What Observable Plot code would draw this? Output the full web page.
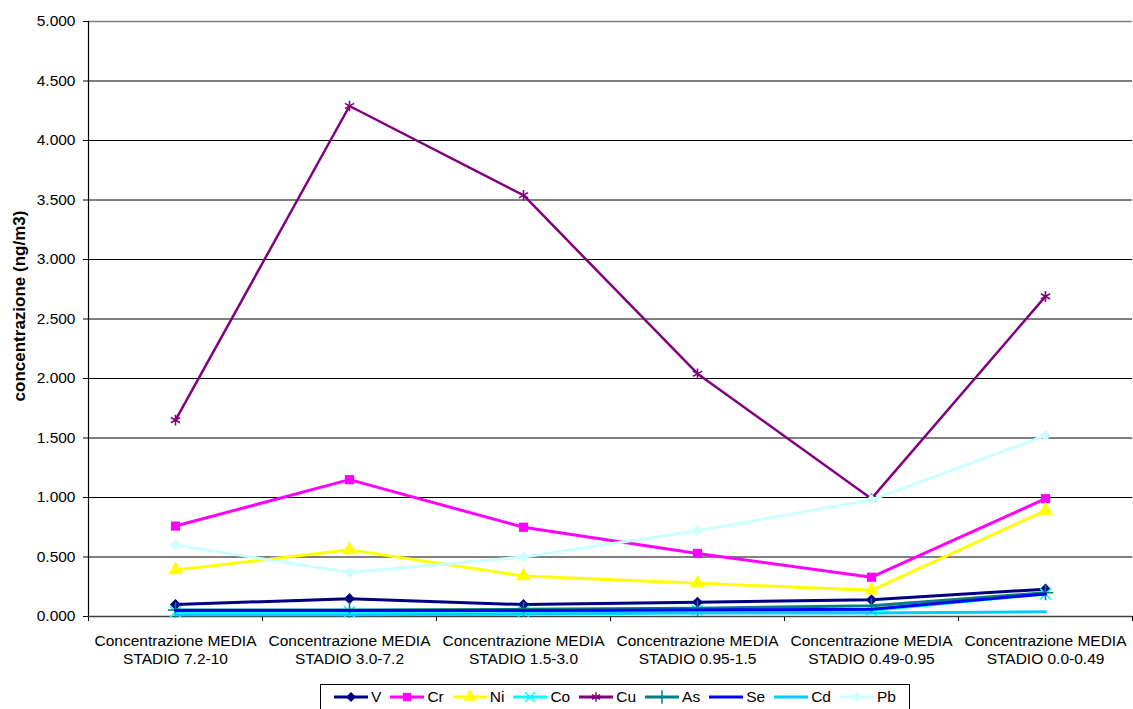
<!DOCTYPE html>
<html>
<head>
<meta charset="utf-8">
<script src="https://cdn.jsdelivr.net/npm/d3@7"></script>
<script src="https://cdn.jsdelivr.net/npm/@observablehq/plot@0.6"></script>
<style>
  html, body { margin: 0; padding: 0; background: #fff; }
  body { font-family: "Liberation Sans", Arial, sans-serif; }
  #wrap { position: relative; width: 1133px; height: 709px; overflow: hidden; }
  #chart { position: absolute; left: 0; top: 0; }
  #legend {
    position: absolute; left: 320px; top: 684px; width: 588px; height: 24px;
    border: 1px solid #000; background: #fff; box-sizing: content-box;
    display: flex; align-items: center; justify-content: center;
    font-size: 15.5px; color: #000;
  }
  .item { display: flex; align-items: center; margin: 0 4.5px; }
  .item svg { margin-right: 3px; }
</style>
</head>
<body>
<div id="wrap">
  <div id="chart"></div>
  <div id="legend"></div>
</div>
<script>
// ---- data ----
const categories = [
  "Concentrazione MEDIA\nSTADIO 7.2-10",
  "Concentrazione MEDIA\nSTADIO 3.0-7.2",
  "Concentrazione MEDIA\nSTADIO 1.5-3.0",
  "Concentrazione MEDIA\nSTADIO 0.95-1.5",
  "Concentrazione MEDIA\nSTADIO 0.49-0.95",
  "Concentrazione MEDIA\nSTADIO 0.0-0.49"
];
const V  = [0.10, 0.15, 0.10, 0.12, 0.14, 0.23];
const Cr = [0.76, 1.15, 0.75, 0.53, 0.33, 0.99];
const Ni = [0.39, 0.56, 0.34, 0.28, 0.22, 0.89];
const Co = [0.04, 0.04, 0.045, 0.05, 0.05, 0.19];
const Cu = [1.65, 4.29, 3.54, 2.04, 0.99, 2.69];
const As = [0.055, 0.055, 0.06, 0.07, 0.09, 0.20];
const Se = [0.05, 0.05, 0.05, 0.055, 0.06, 0.19];
const Cd = [0.015, 0.015, 0.02, 0.03, 0.03, 0.04];
const Pb = [0.60, 0.37, 0.50, 0.72, 0.98, 1.52];
const yTicks = [0, 0.5, 1, 1.5, 2, 2.5, 3, 3.5, 4, 4.5, 5];
const yLabel = "concentrazione (ng/m3)";

// ---- series styling ----
const series = [
  {name: "V",  values: V,  color: "#000080", symbol: "diamond2", filled: true,  r: 5},
  {name: "Cr", values: Cr, color: "#FF00FF", symbol: "square",   filled: true,  r: 5.2},
  {name: "Ni", values: Ni, color: "#FFFF00", symbol: "triangle", filled: true,  r: 5.5},
  {name: "Co", values: Co, color: "#00FFFF", symbol: "times",    filled: false, r: 5},
  {name: "Cu", values: Cu, color: "#800080", symbol: "asterisk", filled: false, r: 5},
  {name: "As", values: As, color: "#008080", symbol: "plus",     filled: false, r: 5},
  {name: "Se", values: Se, color: "#0000FF", symbol: null,       filled: false, r: 0},
  {name: "Cd", values: Cd, color: "#00CCFF", symbol: null,       filled: false, r: 0},
  {name: "Pb", values: Pb, color: "#CCFFFF", symbol: "diamond2", filled: true,  r: 5}
];

const rows = s => s.values.map((v, i) => ({series: s.name, xi: i + 0.5, value: v}));

const marks = [
  Plot.gridY(yTicks.filter(d => d < 5), {stroke: "#000", strokeOpacity: 1, strokeWidth: 1}),
  Plot.gridY([5], {stroke: "#808080", strokeOpacity: 1, strokeWidth: 1.5}),
  Plot.axisY(yTicks, {
    tickSize: 5, tickPadding: 8, tickFormat: d => d.toFixed(3),
    fontSize: 15.5, stroke: "#000", label: null
  }),
  Plot.axisX(d3.range(0, 7), {tickSize: 5, tickFormat: () => "", label: null, stroke: "#000"}),
  Plot.axisX(d3.range(6).map(i => i + 0.5), {
    tickSize: 0, tickPadding: 17, label: null, fontSize: 15.5,
    tickFormat: d => categories[Math.round(d - 0.5)], lineHeight: 1.16
  }),
  Plot.ruleX([0], {stroke: "#000", strokeWidth: 1.2}),
  Plot.ruleY([0], {stroke: "#404040", strokeWidth: 1.5})
];

for (const s of series) {
  const data = rows(s);
  marks.push(Plot.line(data, {x: "xi", y: "value", stroke: s.color,
    strokeWidth: s.name === "Cu" ? 2.5 : 3, curve: "linear"}));
  if (s.symbol) {
    marks.push(Plot.dot(data, {x: "xi", y: "value", symbol: s.symbol, r: s.r,
      fill: s.filled ? s.color : "none",
      stroke: s.color, strokeWidth: s.filled ? 0 : 1.6}));
  }
}

marks.push(Plot.text([yLabel], {
  frameAnchor: "left", textAnchor: "middle", dx: -69, dy: -13,
  rotate: -90, fontWeight: "bold", fontSize: 17,
  text: d => d
}));

const chart = Plot.plot({
  width: 1133,
  height: 675,
  marginLeft: 88,
  marginRight: 1,
  marginTop: 21,
  marginBottom: 59,
  style: {fontFamily: "'Liberation Sans', Arial, sans-serif", color: "#000", background: "#fff"},
  x: {type: "linear", domain: [0, 6], axis: null},
  y: {type: "linear", domain: [0, 5], axis: null},
  marks
});
document.getElementById("chart").appendChild(chart);

// ---- legend ----
const legend = document.getElementById("legend");
const ns = "http://www.w3.org/2000/svg";
const symMap = {
  diamond2: d3.symbolDiamond2, square: d3.symbolSquare, triangle: d3.symbolTriangle,
  times: d3.symbolTimes, asterisk: d3.symbolAsterisk, plus: d3.symbolPlus
};
for (const s of series) {
  const item = document.createElement("div");
  item.className = "item";
  const svg = document.createElementNS(ns, "svg");
  svg.setAttribute("width", 34);
  svg.setAttribute("height", 14);
  const line = document.createElementNS(ns, "line");
  line.setAttribute("x1", 0); line.setAttribute("x2", 34);
  line.setAttribute("y1", 7); line.setAttribute("y2", 7);
  line.setAttribute("stroke", s.color); line.setAttribute("stroke-width", 3);
  svg.appendChild(line);
  if (s.symbol) {
    const p = document.createElementNS(ns, "path");
    p.setAttribute("d", d3.symbol(symMap[s.symbol], Math.PI * s.r * s.r * 0.8)());
    p.setAttribute("transform", "translate(17,7)");
    p.setAttribute("fill", s.filled ? s.color : "none");
    p.setAttribute("stroke", s.color);
    p.setAttribute("stroke-width", s.filled ? 0 : 1.5);
    svg.appendChild(p);
  }
  const t = document.createElement("span");
  t.textContent = s.name;
  item.appendChild(svg);
  item.appendChild(t);
  legend.appendChild(item);
}
</script>
</body>
</html>
